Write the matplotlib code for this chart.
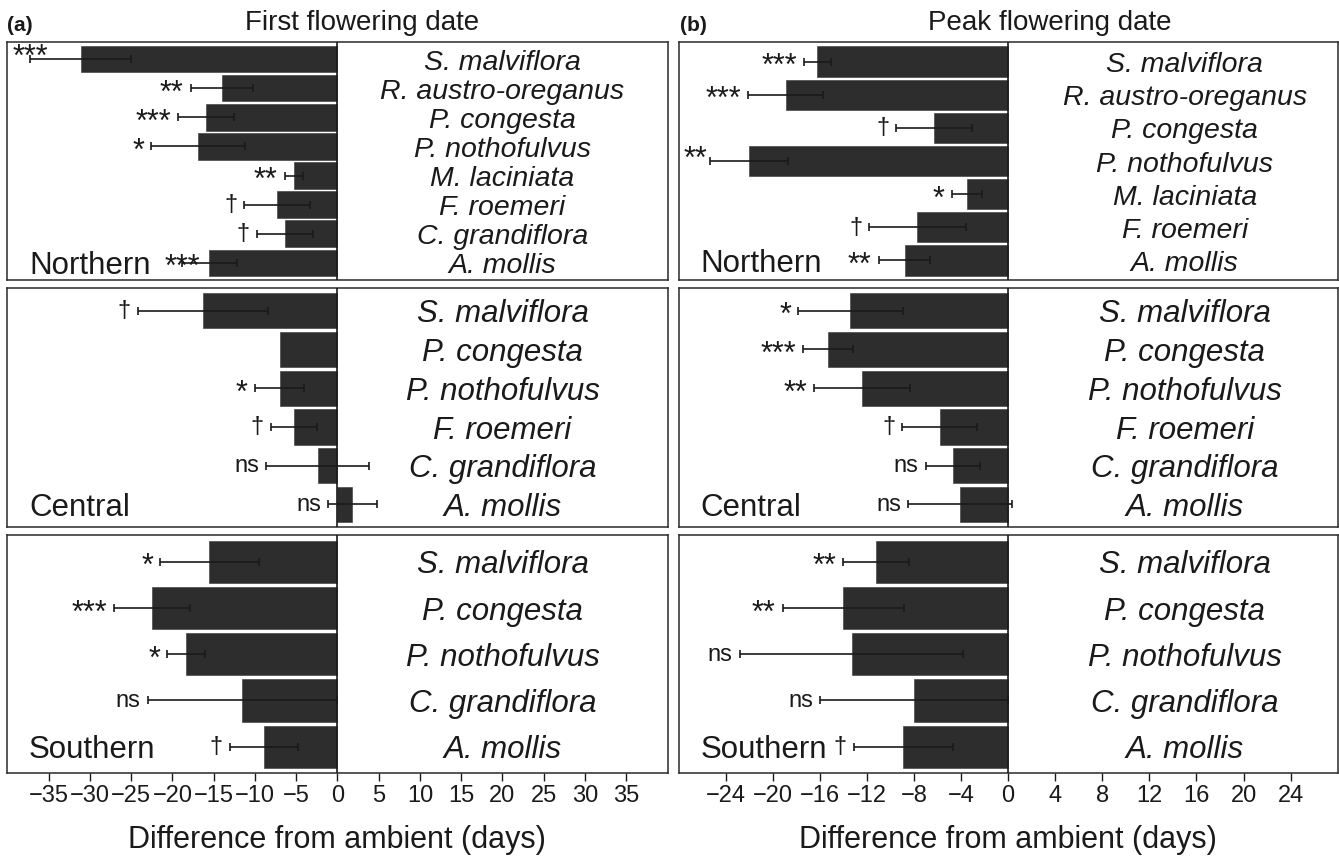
import numpy as np
import matplotlib
matplotlib.use("Agg")
import matplotlib.pyplot as plt

plt.rcParams['font.family'] = ['Liberation Sans', 'DejaVu Sans']
plt.rcParams['axes.unicode_minus'] = True

# ---------------- (a) First flowering date ----------------
ffd_north_species = ["S. malviflora", "R. austro-oreganus", "P. congesta", "P. nothofulvus",
                     "M. laciniata", "F. roemeri", "C. grandiflora", "A. mollis"]
ffd_north_mean = [-31.1, -14.0, -15.9, -16.9, -5.3, -7.3, -6.4, -15.5]
ffd_north_se = [6.1, 3.8, 3.4, 5.7, 1.1, 4.0, 3.4, 3.3]
ffd_north_sig = ["***", "**", "***", "*", "**", "†", "†", "***"]

ffd_central_species = ["S. malviflora", "P. congesta", "P. nothofulvus", "F. roemeri",
                       "C. grandiflora", "A. mollis"]
ffd_central_mean = [-16.3, -7.0, -7.0, -5.3, -2.4, 1.8]
ffd_central_se = [7.9, np.nan, 3.0, 2.8, 6.2, 2.95]
ffd_central_sig = ["†", "", "*", "†", "ns", "ns"]

ffd_south_species = ["S. malviflora", "P. congesta", "P. nothofulvus", "C. grandiflora", "A. mollis"]
ffd_south_mean = [-15.5, -22.5, -18.3, -11.5, -8.9]
ffd_south_se = [6.0, 4.6, 2.3, 11.5, 4.15]
ffd_south_sig = ["*", "***", "*", "ns", "†"]

# ---------------- (b) Peak flowering date ----------------
pfd_north_species = ["S. malviflora", "R. austro-oreganus", "P. congesta", "P. nothofulvus",
                     "M. laciniata", "F. roemeri", "A. mollis"]
pfd_north_mean = [-16.2, -18.9, -6.3, -22.0, -3.5, -7.7, -8.8]
pfd_north_se = [1.15, 3.2, 3.2, 3.3, 1.3, 4.1, 2.2]
pfd_north_sig = ["***", "***", "†", "**", "*", "†", "**"]

pfd_central_species = ["S. malviflora", "P. congesta", "P. nothofulvus", "F. roemeri",
                       "C. grandiflora", "A. mollis"]
pfd_central_mean = [-13.4, -15.3, -12.4, -5.8, -4.7, -4.1]
pfd_central_se = [4.45, 2.1, 4.1, 3.2, 2.3, 4.4]
pfd_central_sig = ["*", "***", "**", "†", "ns", "ns"]

pfd_south_species = ["S. malviflora", "P. congesta", "P. nothofulvus", "C. grandiflora", "A. mollis"]
pfd_south_mean = [-11.2, -14.0, -13.3, -8.0, -8.9]
pfd_south_se = [2.8, 5.15, 9.5, 8.0, 4.2]
pfd_south_sig = ["**", "**", "ns", "ns", "†"]

regions = ["Northern", "Central", "Southern"]
panel_titles = ["First flowering date", "Peak flowering date"]
panel_letters = ["(a)", "(b)"]
x_label = "Difference from ambient (days)"
ffd_ticks = [-35, -30, -25, -20, -15, -10, -5, 0, 5, 10, 15, 20, 25, 30, 35]
pfd_ticks = [-24, -20, -16, -12, -8, -4, 0, 4, 8, 12, 16, 20, 24]

# ---------------- styling / layout ----------------
W, H = 1339, 856
BAR = "#2d2d2d"
INK = "#1a1a1a"
FRAME = "#2a2a2a"

fig = plt.figure(figsize=(W / 100, H / 100), dpi=100)


def rect(x0, x1, y0, y1):
    return [x0 / W, 1 - y1 / H, (x1 - x0) / W, (y1 - y0) / H]


col_x = [(7.3, 667.5), (678.5, 1337.7)]
row_y = [(42.3, 279.5), (288.3, 526.7), (535.0, 773.3)]

data = [
    [(ffd_north_species, ffd_north_mean, ffd_north_se, ffd_north_sig),
     (ffd_central_species, ffd_central_mean, ffd_central_se, ffd_central_sig),
     (ffd_south_species, ffd_south_mean, ffd_south_se, ffd_south_sig)],
    [(pfd_north_species, pfd_north_mean, pfd_north_se, pfd_north_sig),
     (pfd_central_species, pfd_central_mean, pfd_central_se, pfd_central_sig),
     (pfd_south_species, pfd_south_mean, pfd_south_se, pfd_south_sig)],
]
xlims = [(-40, 40), (-28, 28)]
name_x = [20, 15]
ticks = [ffd_ticks, pfd_ticks]

STAR_FS = 22
OTHER_FS = 17


def sig_dy(lab, fs):
    if "*" in lab:
        return -0.44 * fs
    return -0.27 * fs


sig_items = []

for c in range(2):
    for r in range(3):
        species, mean, se, sig = data[c][r]
        ax = fig.add_axes(rect(col_x[c][0], col_x[c][1], row_y[r][0], row_y[r][1]))
        n = len(species)
        ypos = np.arange(n)
        mean_a = np.asarray(mean, float)
        se_a = np.asarray(se, float)
        ax.barh(ypos, mean_a, height=0.91, color=BAR, edgecolor="#4a4a4a",
                linewidth=0.5, zorder=2)
        ok = ~np.isnan(se_a)
        ax.errorbar(mean_a[ok], ypos[ok], xerr=se_a[ok], fmt="none", ecolor=INK,
                    elinewidth=1.2, capsize=2.6, capthick=1.2, zorder=3)
        ax.axvline(0, color=INK, lw=1.2, zorder=4)
        ax.set_xlim(*xlims[c])
        ax.set_ylim(n - 1 + 0.575, -0.58)
        for sp in ax.spines.values():
            sp.set_linewidth(1.1)
            sp.set_color(FRAME)
        ax.set_yticks([])
        if r == 2:
            ax.set_xticks(ticks[c])
            ax.set_xticklabels([f"{t}".replace("-", "\u2212") for t in ticks[c]])
            ax.tick_params(axis="x", direction="out", length=6, width=1.0,
                           labelsize=17, pad=2.5, colors=INK)
        else:
            ax.set_xticks([])

        name_fs = 20.5 if n >= 7 else 22.5
        for yi, nm in zip(ypos, species):
            ax.annotate(nm, (name_x[c], yi), xytext=(0, -0.37 * name_fs),
                        textcoords="offset points", ha="center", va="baseline",
                        fontsize=name_fs, style="italic", color=INK)

        reg = ax.annotate(regions[r], (0.033, n - 1), xycoords=("axes fraction", "data"),
                          xytext=(0, -0.36 * 22.5), textcoords="offset points",
                          ha="left", va="baseline", fontsize=22.5, color=INK)

        for yi, m, s, lab in zip(ypos, mean_a, se_a, sig):
            if not lab:
                continue
            lo = min(m - (0 if np.isnan(s) else s), 0)
            fs = STAR_FS if "*" in lab else OTHER_FS
            t = ax.annotate(lab, (lo, yi), xytext=(-5, sig_dy(lab, fs)),
                            textcoords="offset points", ha="right", va="baseline",
                            fontsize=fs, color=INK, zorder=5)
            sig_items.append((ax, t, yi, lo, lab, fs, reg, n))

    xc = [362, 1050][c]
    fig.text(xc / W, 1 - 30.5 / H, panel_titles[c], ha="center", va="baseline",
             fontsize=20, color=INK)
    fig.text([7, 680][c] / W, 1 - 31 / H, panel_letters[c], ha="left", va="baseline",
             fontsize=15, fontweight="bold", color=INK)
    fig.text((col_x[c][0] + col_x[c][1]) / 2 / W, 1 - 848 / H, x_label,
             ha="center", va="baseline", fontsize=22, color=INK)

# adjust significance labels that leave the panel or hit the region label
fig.canvas.draw()
renderer = fig.canvas.get_renderer()
for ax, t, yi, lo, lab, fs, reg, n in sig_items:
    bb = t.get_window_extent(renderer)
    abb = ax.get_window_extent(renderer)
    if bb.x0 < abb.x0 + 2:
        t.set_ha("left")
        t.xy = (ax.get_xlim()[0], yi)
        t.set_position((4, sig_dy(lab, fs) + 5))
        continue
    if yi == n - 1:
        rbb = reg.get_window_extent(renderer)
        if bb.x0 < rbb.x1 + 2:
            t.set_ha("center")
            t.set_position((0, sig_dy(lab, fs)))

fig.savefig("out.png", dpi=100)
